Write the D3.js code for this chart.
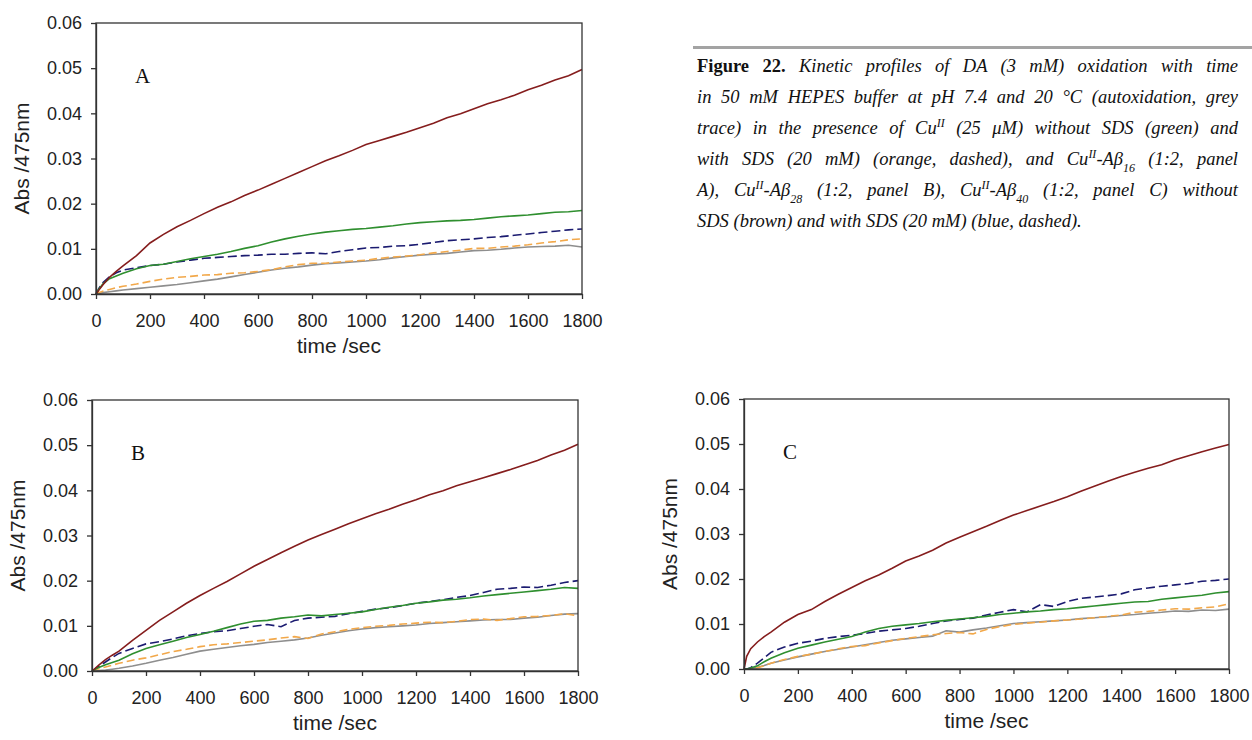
<!DOCTYPE html>
<html>
<head>
<meta charset="utf-8">
<script src="https://cdn.jsdelivr.net/npm/d3@7"></script>
<style>
  body { margin: 0; background: #fff; }
  svg text { font-family: "Liberation Sans", Arial, sans-serif; }
</style>
</head>
<body>
<script>
// sampling times (s)
const timeSec = [0, 10, 25, 50, 75, 100, 150, 200, 250, 300, 350, 400, 450, 500, 550, 600, 650, 700, 750, 800,
  850, 900, 950, 1000, 1050, 1100, 1150, 1200, 1250, 1300, 1350, 1400, 1450, 1500, 1550, 1600, 1650, 1700, 1750, 1800];

const xTicks = [0, 200, 400, 600, 800, 1000, 1200, 1400, 1600, 1800];
const yTicks = [0, 0.01, 0.02, 0.03, 0.04, 0.05, 0.06];

// panel A (Abeta16)
const aBrown = [0, 0.0008, 0.002, 0.0037, 0.005, 0.0062, 0.0085, 0.0113, 0.0132, 0.0149, 0.0163, 0.0178, 0.0192, 0.0204, 0.0218, 0.023, 0.0243, 0.0256, 0.0269, 0.0282,
  0.0295, 0.0306, 0.0318, 0.0331, 0.034, 0.0349, 0.0358, 0.0368, 0.0378, 0.039, 0.0399, 0.041, 0.0421, 0.043, 0.044, 0.0452, 0.0462, 0.0474, 0.0483, 0.0497];
const aGreen = [0, 0.001, 0.0022, 0.0034, 0.004, 0.0046, 0.0056, 0.0063, 0.0066, 0.0072, 0.0078, 0.0083, 0.0088, 0.0094, 0.0101, 0.0107, 0.0115, 0.0122, 0.0128, 0.0133,
  0.0137, 0.014, 0.0143, 0.0145, 0.0148, 0.0151, 0.0155, 0.0158, 0.016, 0.0162, 0.0163, 0.0165, 0.0168, 0.0171, 0.0173, 0.0175, 0.0178, 0.0181, 0.0182, 0.0185];
const aNavy = [0, 0.0012, 0.0025, 0.0038, 0.0047, 0.0053, 0.0058, 0.0063, 0.0066, 0.0071, 0.0075, 0.0079, 0.0081, 0.0083, 0.0085, 0.0086, 0.0088, 0.0088, 0.009, 0.0091,
  0.0089, 0.0094, 0.0098, 0.0102, 0.0103, 0.0106, 0.0107, 0.011, 0.0114, 0.0118, 0.012, 0.0122, 0.0125, 0.0127, 0.013, 0.0133, 0.0136, 0.0139, 0.0142, 0.0144];
const aOrange = [0, 0.0003, 0.0006, 0.001, 0.0014, 0.0017, 0.0022, 0.0028, 0.0033, 0.0037, 0.0039, 0.0042, 0.0043, 0.0046, 0.0047, 0.005, 0.0054, 0.006, 0.0065, 0.0068,
  0.0068, 0.0071, 0.0073, 0.0075, 0.0079, 0.0082, 0.0084, 0.0087, 0.0091, 0.0094, 0.0097, 0.0101, 0.0101, 0.0104, 0.0106, 0.0109, 0.0113, 0.0116, 0.012, 0.0122];
const aGrey = [0, 0.0001, 0.0003, 0.0005, 0.0007, 0.0009, 0.0012, 0.0015, 0.0018, 0.0021, 0.0025, 0.0029, 0.0033, 0.0038, 0.0043, 0.0048, 0.0053, 0.0057, 0.006, 0.0064,
  0.0067, 0.0069, 0.0071, 0.0073, 0.0076, 0.008, 0.0083, 0.0086, 0.0088, 0.009, 0.0093, 0.0096, 0.0097, 0.0099, 0.0102, 0.0104, 0.0105, 0.0106, 0.0108, 0.0104];

// panel B (Abeta28)
const bBrown = [0, 0.0005, 0.0013, 0.0025, 0.0035, 0.0044, 0.0068, 0.009, 0.0112, 0.0131, 0.015, 0.0167, 0.0183, 0.0198, 0.0215, 0.0232, 0.0247, 0.0262, 0.0276, 0.029,
  0.0302, 0.0314, 0.0326, 0.0337, 0.0348, 0.0358, 0.0369, 0.0379, 0.039, 0.0399, 0.041, 0.0419, 0.0428, 0.0437, 0.0446, 0.0456, 0.0466, 0.0478, 0.0489, 0.0502];
const bGreen = [0, 0.0003, 0.0008, 0.0014, 0.0019, 0.0024, 0.0038, 0.005, 0.0058, 0.0066, 0.0074, 0.0081, 0.0088, 0.0096, 0.0104, 0.011, 0.0112, 0.0117, 0.012, 0.0124,
  0.0122, 0.0125, 0.0128, 0.0131, 0.0136, 0.0141, 0.0145, 0.015, 0.0153, 0.0157, 0.0159, 0.0162, 0.0166, 0.0169, 0.0172, 0.0175, 0.0178, 0.0181, 0.0185, 0.0183];
const bNavy = [0, 0.0004, 0.001, 0.002, 0.003, 0.0039, 0.005, 0.006, 0.0065, 0.0071, 0.0078, 0.0083, 0.0087, 0.0089, 0.0094, 0.0099, 0.0103, 0.0098, 0.0112, 0.0117,
  0.0119, 0.0121, 0.0127, 0.0132, 0.0137, 0.014, 0.0145, 0.015, 0.0154, 0.0158, 0.0163, 0.0167, 0.0174, 0.0181, 0.0183, 0.0186, 0.0185, 0.019, 0.0196, 0.02];
const bOrange = [0, 0.0002, 0.0005, 0.0009, 0.0013, 0.0017, 0.0024, 0.0029, 0.0036, 0.0043, 0.0048, 0.0054, 0.0058, 0.006, 0.0063, 0.0066, 0.0069, 0.0073, 0.0076, 0.0072,
  0.0082, 0.0087, 0.0092, 0.0096, 0.0099, 0.0101, 0.0104, 0.0106, 0.0108, 0.0107, 0.011, 0.0114, 0.0115, 0.0112, 0.0116, 0.012, 0.0121, 0.0123, 0.0127, 0.0122];
const bGrey = [0, 0.0001, 0.0001, 0.0002, 0.0004, 0.0006, 0.0011, 0.0017, 0.0024, 0.003, 0.0037, 0.0044, 0.0048, 0.0052, 0.0056, 0.0059, 0.0063, 0.0066, 0.0069, 0.0073,
  0.0079, 0.0084, 0.0089, 0.0093, 0.0096, 0.0098, 0.01, 0.0102, 0.0105, 0.0107, 0.0109, 0.0111, 0.0113, 0.0114, 0.0114, 0.0117, 0.0119, 0.0123, 0.0126, 0.0127];

// panel C (Abeta40)
const cBrown = [0, 0.0028, 0.0045, 0.006, 0.0072, 0.0082, 0.0104, 0.0121, 0.0132, 0.015, 0.0166, 0.0181, 0.0196, 0.0209, 0.0224, 0.024, 0.0251, 0.0264, 0.028, 0.0293,
  0.0305, 0.0317, 0.033, 0.0342, 0.0352, 0.0362, 0.0372, 0.0383, 0.0395, 0.0406, 0.0417, 0.0428, 0.0437, 0.0446, 0.0454, 0.0465, 0.0474, 0.0483, 0.0491, 0.0499];
const cGreen = [0, 0, 0.0002, 0.0007, 0.0016, 0.0024, 0.0036, 0.0046, 0.0053, 0.006, 0.0066, 0.0072, 0.0082, 0.009, 0.0095, 0.0098, 0.0101, 0.0105, 0.0108, 0.0111,
  0.0114, 0.0117, 0.0121, 0.0124, 0.0127, 0.0129, 0.0132, 0.0134, 0.0137, 0.014, 0.0143, 0.0146, 0.0149, 0.015, 0.0155, 0.0158, 0.0161, 0.0164, 0.0169, 0.0172];
const cNavy = [0, 0, 0.0003, 0.0013, 0.0025, 0.0037, 0.0049, 0.0057, 0.0062, 0.0068, 0.0072, 0.0075, 0.0079, 0.0084, 0.0087, 0.009, 0.0095, 0.0101, 0.0107, 0.011,
  0.0113, 0.012, 0.0126, 0.0132, 0.0127, 0.0143, 0.0139, 0.015, 0.0157, 0.016, 0.0163, 0.0167, 0.0176, 0.018, 0.0184, 0.0187, 0.019, 0.0195, 0.0197, 0.02];
const cOrange = [0, 0, 0.0001, 0.0003, 0.0007, 0.0013, 0.0021, 0.0028, 0.0033, 0.0039, 0.0045, 0.005, 0.0052, 0.0058, 0.0063, 0.0068, 0.0072, 0.0076, 0.0079, 0.0081,
  0.0078, 0.0088, 0.0094, 0.0099, 0.0102, 0.0104, 0.0107, 0.0109, 0.0111, 0.0114, 0.0117, 0.012, 0.0126, 0.0128, 0.0131, 0.0134, 0.0133, 0.0136, 0.0138, 0.0145];
const cGrey = [0, 0, 0.0001, 0.0004, 0.0008, 0.0013, 0.002, 0.0027, 0.0033, 0.0039, 0.0044, 0.0049, 0.0054, 0.0059, 0.0064, 0.0067, 0.007, 0.0073, 0.0085, 0.0082,
  0.0087, 0.0091, 0.0096, 0.0101, 0.0103, 0.0105, 0.0107, 0.0109, 0.0112, 0.0114, 0.0116, 0.0119, 0.0121, 0.0124, 0.0126, 0.0129, 0.0128, 0.0131, 0.013, 0.0133];

const panels = [
  { label: "A", left: 96, right: 582, top: 23, bottom: 294, series: [aGrey, aOrange, aNavy, aGreen, aBrown] },
  { label: "B", left: 92, right: 578, top: 400, bottom: 671, series: [bGrey, bOrange, bNavy, bGreen, bBrown] },
  { label: "C", left: 744, right: 1229, top: 399, bottom: 669, series: [cGrey, cOrange, cNavy, cGreen, cBrown] }
];

// same order as panel.series
const lineStyles = [
  { color: "#8e8e8e", dash: null },
  { color: "#f2a84a", dash: "8,4" },
  { color: "#1b1b70", dash: "9,4" },
  { color: "#2f8f2f", dash: null },
  { color: "#851d1d", dash: null }
];

const svg = d3.select("body").append("svg")
  .attr("width", 1252)
  .attr("height", 740);

function drawPanel(p) {
  const x = d3.scaleLinear().domain([0, 1800]).range([p.left, p.right]);
  const y = d3.scaleLinear().domain([0, 0.06]).range([p.bottom, p.top]);
  const g = svg.append("g");

  const line = d3.line()
    .x((d, i) => x(timeSec[i]))
    .y(d => y(d));

  p.series.forEach((s, i) => {
    g.append("path")
      .datum(s)
      .attr("d", line)
      .attr("fill", "none")
      .attr("stroke", lineStyles[i].color)
      .attr("stroke-width", 1.6)
      .attr("stroke-dasharray", lineStyles[i].dash);
  });

  g.append("rect")
    .attr("x", p.left)
    .attr("y", p.top)
    .attr("width", p.right - p.left)
    .attr("height", p.bottom - p.top)
    .attr("fill", "none")
    .attr("stroke", "#333")
    .attr("stroke-width", 1.3);

  const xAxis = g.append("g")
    .attr("transform", "translate(0," + p.bottom + ")")
    .call(d3.axisBottom(x).tickValues(xTicks).tickFormat(d3.format("d")).tickSize(5).tickSizeOuter(0).tickPadding(15));
  const yAxis = g.append("g")
    .attr("transform", "translate(" + p.left + ",0)")
    .call(d3.axisLeft(y).tickValues(yTicks).tickFormat(d3.format(".2f")).tickSize(5).tickSizeOuter(0).tickPadding(9));

  [xAxis, yAxis].forEach(a => {
    a.select(".domain").attr("stroke", "#333").attr("stroke-width", 1.3);
    a.selectAll(".tick line").attr("stroke", "#333").attr("stroke-width", 1.3);
    a.selectAll(".tick text")
      .attr("font-size", 18)
      .attr("font-family", "Liberation Sans, Arial, sans-serif")
      .attr("fill", "#222");
  });

  g.append("text")
    .attr("x", (p.left + p.right) / 2)
    .attr("y", p.bottom + 59)
    .attr("text-anchor", "middle")
    .attr("font-size", 21)
    .attr("fill", "#222")
    .text("time /sec");

  g.append("text")
    .attr("transform", "translate(" + (p.left - 67) + "," + ((p.top + p.bottom) / 2) + ") rotate(-90)")
    .attr("text-anchor", "middle")
    .attr("font-size", 21)
    .attr("fill", "#222")
    .text("Abs /475nm");

  g.append("text")
    .attr("x", p.left + 39)
    .attr("y", p.top + 60)
    .attr("font-size", 21)
    .attr("fill", "#111")
    .style("font-family", "'Liberation Serif', serif")
    .text(p.label);
}

panels.forEach(drawPanel);

// caption
svg.append("rect")
  .attr("x", 693).attr("y", 46)
  .attr("width", 559).attr("height", 3)
  .attr("fill", "#a3a3a3");

const capLines = [
  [["Figure 22. ", "b"], ["Kinetic profiles of DA (3 mM) oxidation with time", "i"]],
  [["in 50 mM HEPES buffer at pH 7.4 and 20 °C (autoxidation, grey", "i"]],
  [["trace) in the presence of Cu", "i"], ["II", "sup"], [" (25 μM) without SDS (green) and", "i"]],
  [["with SDS (20 mM) (orange, dashed), and Cu", "i"], ["II", "sup"], ["-Aβ", "i"], ["16", "sub"], [" (1:2, panel", "i"]],
  [["A), Cu", "i"], ["II", "sup"], ["-Aβ", "i"], ["28", "sub"], [" (1:2, panel B), Cu", "i"], ["II", "sup"], ["-Aβ", "i"], ["40", "sub"], [" (1:2, panel C) without", "i"]],
  [["SDS (brown) and with SDS (20 mM) (blue, dashed).", "i"]]
];

const capWidth = 541;
capLines.forEach((parts, li) => {
  const t = svg.append("text")
    .attr("x", 697)
    .attr("y", 72 + li * 31)
    .style("font-family", "'Liberation Serif', 'Times New Roman', serif")
    .attr("font-size", 18.5)
    .attr("fill", "#111");
  parts.forEach(([txt, kind]) => {
    const ts = t.append("tspan").text(txt);
    if (kind === "b") {
      ts.attr("font-weight", "bold");
    } else {
      ts.attr("font-style", "italic");
    }
    if (kind === "sup") ts.attr("font-size", 12).attr("baseline-shift", "super");
    if (kind === "sub") ts.attr("font-size", 12).attr("baseline-shift", "sub");
  });
  // justify all but the last line by widening the word gaps
  if (li < capLines.length - 1) {
    const full = parts.map(q => q[0]).join("").trimEnd();
    const gaps = (full.match(/ /g) || []).length;
    const natural = t.node().getComputedTextLength();
    t.style("word-spacing", ((capWidth - natural) / gaps) + "px");
  }
});
</script>
</body>
</html>
